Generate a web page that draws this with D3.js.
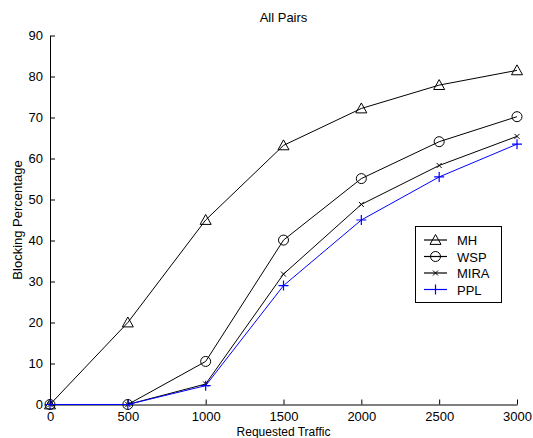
<!DOCTYPE html>
<html>
<head>
<meta charset="utf-8">
<script src="https://cdn.jsdelivr.net/npm/d3@7"></script>
<style>
  html, body { margin: 0; padding: 0; background: #fff; }
  svg { display: block; font-family: "Liberation Sans", Arial, sans-serif; }
</style>
</head>
<body>
<svg id="chart" width="533" height="438"></svg>
<script>
// Requested traffic levels (x) and blocking percentage per routing scheme
const traffic = [0, 500, 1000, 1500, 2000, 2500, 3000];
const mh   = [0, 20.0, 45.0, 63.2, 72.2, 77.9, 81.5];
const wsp  = [0, 0, 10.5, 40.1, 55.1, 64.1, 70.2];
const mira = [0, 0, 5.0, 31.8, 48.8, 58.3, 65.4];
const ppl  = [0, 0, 4.6, 29.0, 45.0, 55.5, 63.5];
const xTicks = [0, 500, 1000, 1500, 2000, 2500, 3000];
const yTicks = [0, 10, 20, 30, 40, 50, 60, 70, 80, 90];

const series = [
  { name: "MH",   values: mh,   color: "#000000", marker: "triangle" },
  { name: "WSP",  values: wsp,  color: "#000000", marker: "circle" },
  { name: "MIRA", values: mira, color: "#000000", marker: "x" },
  { name: "PPL",  values: ppl,  color: "#0000ff", marker: "plus" }
];

const svg = d3.select("#chart");
const plotLeft = 50, plotRight = 517, plotTop = 35.5, plotBottom = 404.5;

const x = d3.scaleLinear().domain([0, 3000]).range([plotLeft, plotRight]);
const y = d3.scaleLinear().domain([0, 90]).range([plotBottom, plotTop]);

// Axes with inward ticks
const xAxis = svg.append("g").attr("transform", `translate(0,${plotBottom})`)
  .call(d3.axisBottom(x).tickValues(xTicks).tickFormat(d3.format("d"))
    .tickSizeInner(-5).tickSizeOuter(0).tickPadding(7));
const yAxis = svg.append("g").attr("transform", `translate(${plotLeft},0)`)
  .call(d3.axisLeft(y).tickValues(yTicks).tickFormat(d3.format("d"))
    .tickSizeInner(-5).tickSizeOuter(0).tickPadding(7));
[xAxis, yAxis].forEach(a => {
  a.selectAll("path, line").attr("stroke", "#000").attr("stroke-width", 1);
  a.selectAll("text").attr("font-size", 13).attr("fill", "#000")
    .attr("font-family", "'Liberation Sans', Arial, sans-serif");
});

// Titles
svg.append("text").attr("x", (plotLeft + plotRight) / 2).attr("y", 22)
  .attr("text-anchor", "middle").attr("font-size", 13).text("All Pairs");
svg.append("text").attr("x", (plotLeft + plotRight) / 2).attr("y", 435.5)
  .attr("text-anchor", "middle").attr("font-size", 12).text("Requested Traffic");
svg.append("text").attr("transform", `translate(22,${(plotTop + plotBottom) / 2}) rotate(-90)`)
  .attr("text-anchor", "middle").attr("font-size", 13).text("Blocking Percentage");

// Marker drawing
function drawMarker(g, type, cx, cy, color) {
  if (type === "triangle") {
    const s = 5.5;
    g.append("path")
      .attr("d", `M${cx},${cy - s} L${cx + s},${cy + s * 0.8} L${cx - s},${cy + s * 0.8} Z`)
      .attr("fill", "none").attr("stroke", color).attr("stroke-width", 1);
  } else if (type === "circle") {
    g.append("circle").attr("cx", cx).attr("cy", cy).attr("r", 5)
      .attr("fill", "none").attr("stroke", color).attr("stroke-width", 1);
  } else if (type === "x") {
    const s = 2.5;
    g.append("path")
      .attr("d", `M${cx - s},${cy - s} L${cx + s},${cy + s} M${cx - s},${cy + s} L${cx + s},${cy - s}`)
      .attr("stroke", color).attr("stroke-width", 1);
  } else if (type === "plus") {
    const s = 5;
    g.append("path")
      .attr("d", `M${cx - s},${cy} L${cx + s},${cy} M${cx},${cy - s} L${cx},${cy + s}`)
      .attr("stroke", color).attr("stroke-width", 1.2);
  }
}

const line = d3.line().x(d => x(d[0])).y(d => y(d[1]));
series.forEach(s => {
  const pts = traffic.map((t, i) => [t, s.values[i]]);
  const g = svg.append("g");
  g.append("path").attr("d", line(pts)).attr("fill", "none")
    .attr("stroke", s.color).attr("stroke-width", 1);
  pts.forEach(p => drawMarker(g, s.marker, x(p[0]), y(p[1]), s.color));
});

// Legend
const lg = svg.append("g");
lg.append("rect").attr("x", 415.5).attr("y", 226.5).attr("width", 86).attr("height", 76)
  .attr("fill", "#fff").attr("stroke", "#000").attr("stroke-width", 1);
series.forEach((s, i) => {
  const ly = 240 + i * 16.5;
  lg.append("line").attr("x1", 424).attr("x2", 447).attr("y1", ly).attr("y2", ly)
    .attr("stroke", s.color).attr("stroke-width", 1.2);
  drawMarker(lg, s.marker, 435.5, ly, s.color);
  lg.append("text").attr("x", 457).attr("y", ly + 5).attr("font-size", 13).text(s.name);
});
</script>
</body>
</html>
